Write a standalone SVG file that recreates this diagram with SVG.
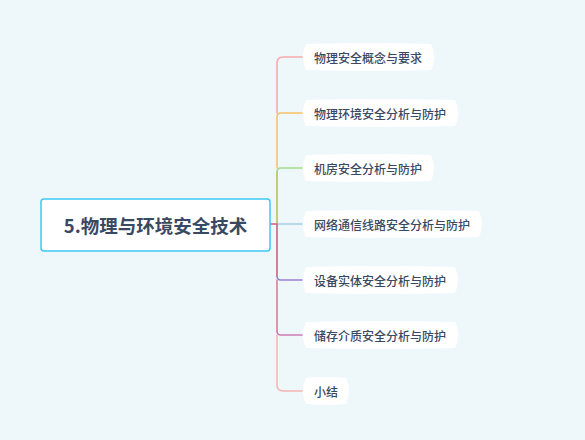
<svg xmlns="http://www.w3.org/2000/svg" width="585" height="440" viewBox="0 0 585 440">
<style>
.bg{fill:#eef8fb}
.card{fill:#ffffff}
.t{font-family:"Noto Sans CJK SC","Noto Sans",sans-serif;font-size:12px;font-weight:500;fill:#3b4862;dominant-baseline:central}
.root{font-family:"Noto Sans CJK SC","Noto Sans",sans-serif;font-size:18.5px;font-weight:bold;fill:#3b4862;dominant-baseline:central;text-anchor:middle}
.c{fill:none;stroke-width:1.6;stroke-linecap:round}
</style>
<rect class="bg" x="0" y="0" width="585" height="440"/>
<g id="connectors">
<path class="c" stroke="#d45c7c" d="M270,224 H277"/>
<path class="c" stroke="#f7a9a9" d="M277,113 V63 Q277,57 283,57 H302"/>
<path class="c" stroke="#fcc064" d="M277,168 V117 Q277,113 281,113 H302"/>
<path class="c" stroke="#b9c24a" d="M277,224 V172"/>
<path class="c" stroke="#a0dc8c" d="M277,172 Q277,168 281,168 H302"/>
<path class="c" stroke="#a8cdf0" d="M277,224 H302"/>
<path class="c" stroke="#d45c7c" d="M277,224 V276"/>
<path class="c" stroke="#9b7fd4" d="M277,276 Q277,280 281,280 H302"/>
<path class="c" stroke="#e07a94" d="M277,280 V331"/>
<path class="c" stroke="#d07ab8" d="M277,331 Q277,335 281,335 H302"/>
<path class="c" stroke="#f8b4b4" d="M277,335 V385 Q277,391 283,391 H302"/>
</g>
<g id="root">
<rect x="41" y="199" width="229" height="52" rx="3" fill="#ffffff" stroke="#3ec8f5" stroke-width="1.5"/>
<text class="root" x="155.5" y="225">5.物理与环境安全技术</text>
</g>
<g id="n1">
<path class="card" d="M306,44 Q368,42 431,44 Q437,57 431,70 Q368,72 306,70 Q300,57 306,44 Z"/>
<text class="t" x="314" y="57">物理安全概念与要求</text>
</g>
<g id="n2">
<path class="card" d="M306,100 Q380,98 455,100 Q461,113 455,126 Q380,128 306,126 Q300,113 306,100 Z"/>
<text class="t" x="314" y="113">物理环境安全分析与防护</text>
</g>
<g id="n3">
<path class="card" d="M306,155 Q368,153 431,155 Q437,168 431,181 Q368,183 306,181 Q300,168 306,155 Z"/>
<text class="t" x="314" y="168">机房安全分析与防护</text>
</g>
<g id="n4">
<path class="card" d="M306,211 Q392,209 479,211 Q485,224 479,237 Q392,239 306,237 Q300,224 306,211 Z"/>
<text class="t" x="314" y="224">网络通信线路安全分析与防护</text>
</g>
<g id="n5">
<path class="card" d="M306,267 Q380,265 455,267 Q461,280 455,293 Q380,295 306,293 Q300,280 306,267 Z"/>
<text class="t" x="314" y="280">设备实体安全分析与防护</text>
</g>
<g id="n6">
<path class="card" d="M306,322 Q380,320 455,322 Q461,335 455,348 Q380,350 306,348 Q300,335 306,322 Z"/>
<text class="t" x="314" y="335">储存介质安全分析与防护</text>
</g>
<g id="n7">
<path class="card" d="M306,378 Q326,376 346,378 Q352,391 346,404 Q326,406 306,404 Q300,391 306,378 Z"/>
<text class="t" x="314" y="391">小结</text>
</g>
</svg>
